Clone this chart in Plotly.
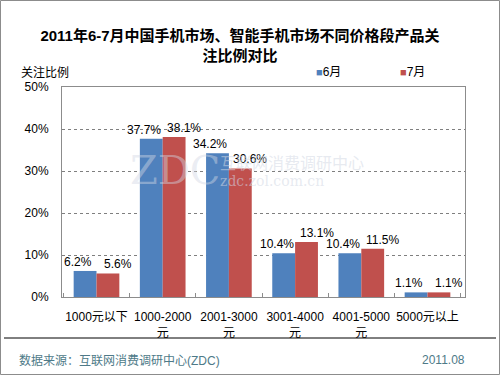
import plotly.graph_objects as go

categories = ["1000元以下", "1000-2000<br>元", "2001-3000<br>元", "3001-4000<br>元", "4001-5000<br>元", "5000元以上"]
series_names = ["6月", "7月"]
june = [6.2, 37.7, 34.2, 10.4, 10.4, 1.1]
july = [5.6, 38.1, 30.6, 13.1, 11.5, 1.1]
y_ticks = [0, 10, 20, 30, 40, 50]
colors = ["#4F81BD", "#C0504D"]

FONT = "Arial, Liberation Sans, Noto Sans CJK SC, sans-serif"
W, H = 500, 375
L, R, T, B = 62, 35, 87, 78
plot_w = W - L - R
plot_h = H - T - B


def to_paper_x(px):
    return (px - L) / plot_w


def to_paper_y(py):
    return (H - B - py) / plot_h


fig = go.Figure()
for name, vals, col in zip(series_names, (june, july), colors):
    fig.add_trace(go.Bar(name=name, x=categories, y=vals, marker_color=col,
                         marker_line_width=0, showlegend=False, hoverinfo="skip"))

# data labels, anchored on the data coordinates
for vals, shift in ((june, -18.5), (july, 21.5)):
    for c, v in zip(categories, vals):
        fig.add_annotation(x=c, y=v, xref="x", yref="y", text=f"{v:.1f}%",
                           showarrow=False, xshift=shift, yshift=0, yanchor="bottom",
                           font=dict(size=12, color="#000000", family=FONT))

fig.update_layout(
    width=W, height=H,
    margin=dict(l=L, r=R, t=T, b=B, autoexpand=False),
    paper_bgcolor="white", plot_bgcolor="white",
    barmode="group", bargap=0.31, bargroupgap=0,
    font=dict(family=FONT, size=12, color="#000000"),
    title=dict(text="<b>2011年6-7月中国手机市场、智能手机市场不同价格段产品关<br>注比例对比</b>",
               x=0.48, xanchor="center", y=1 - 41 / H, yanchor="middle", yref="container",
               font=dict(size=15, color="#000000", family=FONT)),
    showlegend=False,
    xaxis=dict(showline=True, linecolor="#8C8C8C", linewidth=1, mirror=True,
               ticks="inside", tickson="boundaries", ticklen=4, tickcolor="#8C8C8C",
               tickangle=0, tickfont=dict(size=12, family=FONT), ticklabelstandoff=9),
    yaxis=dict(range=[0, 50], tickvals=y_ticks, ticktext=[f"{v}%" for v in y_ticks],
               showgrid=True, gridcolor="#7F7F7F", griddash="dot", gridwidth=1,
               showline=True, linecolor="#8C8C8C", linewidth=1, mirror=True,
               zeroline=False, tickfont=dict(size=12, family=FONT), ticklabelstandoff=10),
)

# legend (custom, Excel-like small squares)
for name, col, px in zip(series_names, colors, (314, 398)):
    fig.add_annotation(text=f"<span style='color:{col};font-size:11px'>■</span>{name}",
                       xref="paper", yref="paper", x=to_paper_x(px), y=to_paper_y(72),
                       showarrow=False, xanchor="left", yanchor="middle",
                       font=dict(size=12, family=FONT, color="#000000"))

fig.add_annotation(text="关注比例", xref="paper", yref="paper",
                   x=to_paper_x(19), y=to_paper_y(72), showarrow=False,
                   xanchor="left", yanchor="middle", font=dict(size=12, family=FONT))

# watermark
fig.add_annotation(text="ZDC", xref="paper", yref="paper", x=to_paper_x(175), y=to_paper_y(170),
                   showarrow=False, xanchor="center", yanchor="middle",
                   font=dict(size=40, color="rgba(210,216,228,0.45)", family="DejaVu Serif, serif"))
fig.add_annotation(text="互联网消费调研中心", xref="paper", yref="paper",
                   x=to_paper_x(218), y=to_paper_y(163), showarrow=False, xanchor="left",
                   yanchor="middle",
                   font=dict(size=16, color="rgba(210,216,228,0.55)", family=FONT))
fig.add_annotation(text="zdc.zol.com.cn", xref="paper", yref="paper",
                   x=to_paper_x(218), y=to_paper_y(181), showarrow=False, xanchor="left",
                   yanchor="middle",
                   font=dict(size=14, color="rgba(210,216,228,0.55)", family="DejaVu Serif, serif"))

# footer
fig.add_annotation(text="数据来源：互联网消费调研中心(ZDC)", xref="paper", yref="paper",
                   x=to_paper_x(17), y=to_paper_y(360), showarrow=False, xanchor="left",
                   yanchor="middle", font=dict(size=12, color="#4E7A88", family=FONT))
fig.add_annotation(text="2011.08", xref="paper", yref="paper",
                   x=to_paper_x(467), y=to_paper_y(360), showarrow=False, xanchor="right",
                   yanchor="middle", font=dict(size=12, color="#4E7A88", family=FONT))

fig.add_shape(type="line", xref="paper", yref="paper", x0=to_paper_x(4), x1=to_paper_x(496),
              y0=to_paper_y(338), y1=to_paper_y(338), line=dict(color="#000000", width=1))
fig.add_shape(type="rect", xref="paper", yref="paper", x0=to_paper_x(0.5), x1=to_paper_x(499.5),
              y0=to_paper_y(0.5), y1=to_paper_y(374.5), line=dict(color="#8C8C8C", width=1))

fig.write_html("out.html", config={"displayModeBar": False},
               post_script="document.body.style.margin='0';document.body.style.overflow='hidden';")
